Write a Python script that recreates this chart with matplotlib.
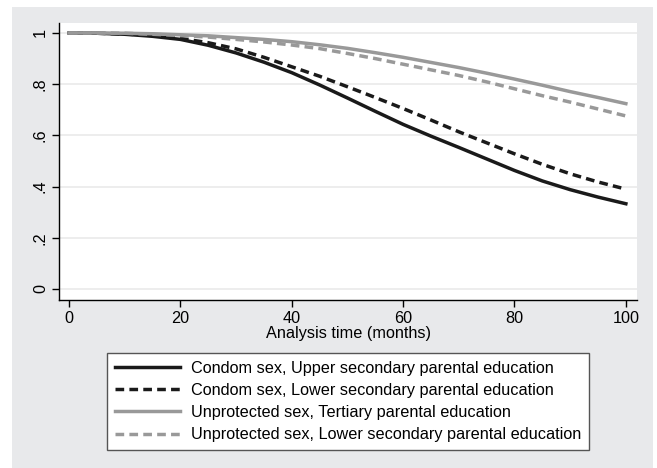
import numpy as np
import matplotlib
matplotlib.use('Agg')
from matplotlib import pyplot as plt
from matplotlib.patches import Rectangle

plt.rcParams['font.family'] = ['Liberation Sans', 'DejaVu Sans']

months = [0, 5, 10, 15, 20, 25, 30, 35, 40, 45, 50, 55, 60, 65, 70, 75, 80, 85, 90, 95, 100]
condom_upper = [1.0, 0.999, 0.995, 0.987, 0.975, 0.952, 0.922, 0.886, 0.845, 0.797, 0.746, 0.694, 0.643, 0.597, 0.553, 0.508, 0.463, 0.422, 0.388, 0.359, 0.333]
condom_lower = [1.0, 0.999, 0.996, 0.99, 0.979, 0.962, 0.938, 0.905, 0.868, 0.831, 0.79, 0.748, 0.705, 0.66, 0.614, 0.571, 0.528, 0.487, 0.45, 0.418, 0.39]
unprot_tertiary = [1.0, 1.0, 0.999, 0.997, 0.993, 0.989, 0.982, 0.975, 0.966, 0.954, 0.94, 0.923, 0.905, 0.885, 0.865, 0.843, 0.82, 0.796, 0.771, 0.748, 0.724]
unprot_lower = [1.0, 1.0, 0.999, 0.995, 0.99, 0.984, 0.975, 0.965, 0.953, 0.939, 0.92, 0.9, 0.878, 0.856, 0.834, 0.809, 0.782, 0.755, 0.73, 0.703, 0.676]

labels = ['Condom sex, Upper secondary parental education',
          'Condom sex, Lower secondary parental education',
          'Unprotected sex, Tertiary parental education',
          'Unprotected sex, Lower secondary parental education']

W, H = 657, 468
fig = plt.figure(figsize=(W / 100, H / 100), dpi=100, facecolor='white')
fig.patches.append(Rectangle((12 / W, 0), (653 - 12) / W, 1 - 7 / H,
                             transform=fig.transFigure, facecolor='#e8e9eb',
                             edgecolor='none', zorder=-10))

ax = fig.add_axes([59 / W, 1 - 300 / H, (637 - 59) / W, (300 - 23) / H])
ax.set_facecolor('white')

black = '#1a1a1a'
gray = '#999999'
lw = 2.5
ax.plot(months, condom_upper, color=black, lw=lw, label=labels[0])
ax.plot(months, condom_lower, color=black, lw=lw, dashes=(2.5, 1.5), label=labels[1])
ax.plot(months, unprot_tertiary, color=gray, lw=lw, label=labels[2])
ax.plot(months, unprot_lower, color=gray, lw=lw, dashes=(2.5, 1.5), label=labels[3])

ax.set_xlim(-1.8, 102)
ax.set_ylim(-0.043, 1.039)
ax.set_xticks([0, 20, 40, 60, 80, 100])
ax.set_yticks([0, 0.2, 0.4, 0.6, 0.8, 1])
ax.set_yticklabels(['0', '.2', '.4', '.6', '.8', '1'], rotation=90, va='center')
ax.grid(axis='y', color='#eaeaea', lw=1.2)
ax.set_axisbelow(True)
for s in ['top', 'right']:
    ax.spines[s].set_visible(False)
for s in ['left', 'bottom']:
    ax.spines[s].set_color('black')
    ax.spines[s].set_linewidth(1)
ax.tick_params(direction='out', length=5, width=1, labelsize=11.7, pad=3)
ax.set_xlabel('Analysis time (months)', fontsize=11.7, labelpad=0)

leg = fig.legend(loc='center', bbox_to_anchor=(348 / W, 1 - 401.5 / H),
                 fontsize=11.7, handlelength=4.0, handletextpad=0.7,
                 labelspacing=0.45, borderpad=0.45, fancybox=False,
                 framealpha=1, edgecolor='#555555')
leg.get_frame().set_linewidth(1)

fig.savefig('out.png', dpi=100)
